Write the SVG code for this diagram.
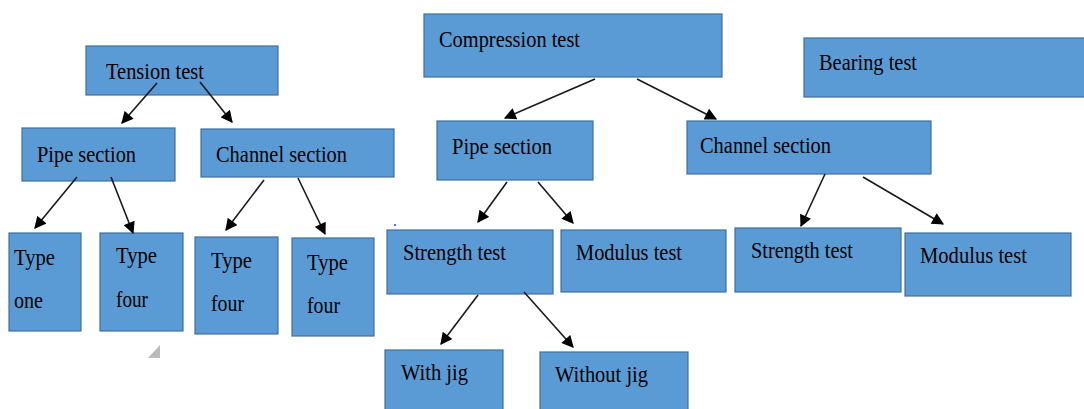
<svg xmlns="http://www.w3.org/2000/svg" width="1084" height="409" viewBox="0 0 1084 409">
<style>
.box{fill:#5B9BD5;stroke:#41719C;stroke-width:1.2}
.t{font-family:"Liberation Serif","Times New Roman",serif;font-size:24px;fill:#000}
.c{stroke:#1a1a1a;stroke-width:1.6;fill:none;marker-end:url(#ah)}
</style>
<defs>
<marker id="ah" viewBox="0 0 10 10" refX="9" refY="5" markerWidth="13" markerHeight="12" markerUnits="userSpaceOnUse" orient="auto">
<path d="M0,0 L10,5 L0,10 z" fill="#000"/>
</marker>
</defs>
<rect width="1084" height="409" fill="#fff"/>
<g id="tension"><rect class="box" x="86" y="46" width="192" height="49"/><text class="t" x="106" y="79" textLength="98" lengthAdjust="spacingAndGlyphs">Tension test</text></g>
<g id="t-pipe"><rect class="box" x="22" y="128" width="153" height="53"/><text class="t" x="37" y="162" textLength="99" lengthAdjust="spacingAndGlyphs">Pipe section</text></g>
<g id="t-channel"><rect class="box" x="201" y="129" width="193" height="48"/><text class="t" x="216" y="162" textLength="131" lengthAdjust="spacingAndGlyphs">Channel section</text></g>
<g id="type-one"><rect class="box" x="9" y="233" width="72" height="98"/><text class="t" x="14" y="265" textLength="41" lengthAdjust="spacingAndGlyphs">Type</text><text class="t" x="14" y="308" textLength="29" lengthAdjust="spacingAndGlyphs">one</text></g>
<g id="type-four-1"><rect class="box" x="100" y="233" width="83" height="98"/><text class="t" x="116" y="263" textLength="41" lengthAdjust="spacingAndGlyphs">Type</text><text class="t" x="116" y="307" textLength="32" lengthAdjust="spacingAndGlyphs">four</text></g>
<g id="type-four-2"><rect class="box" x="195" y="237" width="83" height="97"/><text class="t" x="211" y="268" textLength="41" lengthAdjust="spacingAndGlyphs">Type</text><text class="t" x="211" y="311" textLength="33" lengthAdjust="spacingAndGlyphs">four</text></g>
<g id="type-four-3"><rect class="box" x="292" y="238" width="82" height="98"/><text class="t" x="307" y="270" textLength="41" lengthAdjust="spacingAndGlyphs">Type</text><text class="t" x="307" y="313" textLength="33" lengthAdjust="spacingAndGlyphs">four</text></g>
<g id="compression"><rect class="box" x="424" y="14" width="298" height="63"/><text class="t" x="439" y="47" textLength="141" lengthAdjust="spacingAndGlyphs">Compression test</text></g>
<g id="c-pipe"><rect class="box" x="437" y="121" width="156" height="59"/><text class="t" x="452" y="154" textLength="100" lengthAdjust="spacingAndGlyphs">Pipe section</text></g>
<g id="c-channel"><rect class="box" x="687" y="121" width="244" height="53"/><text class="t" x="700" y="153" textLength="131" lengthAdjust="spacingAndGlyphs">Channel section</text></g>
<g id="bearing"><rect class="box" x="804" y="38" width="284" height="59"/><text class="t" x="819" y="70" textLength="98" lengthAdjust="spacingAndGlyphs">Bearing test</text></g>
<g id="p-strength"><rect class="box" x="387" y="230" width="166" height="64"/><text class="t" x="403" y="260" textLength="103" lengthAdjust="spacingAndGlyphs">Strength test</text></g>
<g id="p-modulus"><rect class="box" x="561" y="230" width="165" height="62"/><text class="t" x="576" y="260" textLength="106" lengthAdjust="spacingAndGlyphs">Modulus test</text></g>
<g id="with-jig"><rect class="box" x="385" y="350" width="118" height="65"/><text class="t" x="401" y="380" textLength="67" lengthAdjust="spacingAndGlyphs">With jig</text></g>
<g id="without-jig"><rect class="box" x="540" y="352" width="148" height="65"/><text class="t" x="555" y="382" textLength="93" lengthAdjust="spacingAndGlyphs">Without jig</text></g>
<g id="c-strength"><rect class="box" x="735" y="228" width="166" height="64"/><text class="t" x="751" y="258" textLength="102" lengthAdjust="spacingAndGlyphs">Strength test</text></g>
<g id="c-modulus"><rect class="box" x="905" y="233" width="166" height="63"/><text class="t" x="920" y="263" textLength="107" lengthAdjust="spacingAndGlyphs">Modulus test</text></g>
<g id="connectors">
<line class="c" x1="157" y1="83" x2="122" y2="123"/>
<line class="c" x1="200" y1="82" x2="232" y2="122"/>
<line class="c" x1="77" y1="177" x2="35" y2="228"/>
<line class="c" x1="111" y1="177" x2="133" y2="233"/>
<line class="c" x1="264" y1="180" x2="226" y2="230"/>
<line class="c" x1="298" y1="178" x2="325" y2="234"/>
<line class="c" x1="595" y1="79" x2="505" y2="118"/>
<line class="c" x1="637" y1="79" x2="716" y2="119"/>
<line class="c" x1="507" y1="182" x2="478" y2="222"/>
<line class="c" x1="538" y1="182" x2="573" y2="223"/>
<line class="c" x1="478" y1="295" x2="441" y2="344"/>
<line class="c" x1="524" y1="292" x2="573" y2="347"/>
<line class="c" x1="825" y1="174" x2="801" y2="226"/>
<line class="c" x1="863" y1="177" x2="943" y2="224"/>
</g>
<polygon points="160,345 160,358 148,358" fill="#bbb"/>
<circle cx="395" cy="225" r="1" fill="#3333ff"/>
</svg>
